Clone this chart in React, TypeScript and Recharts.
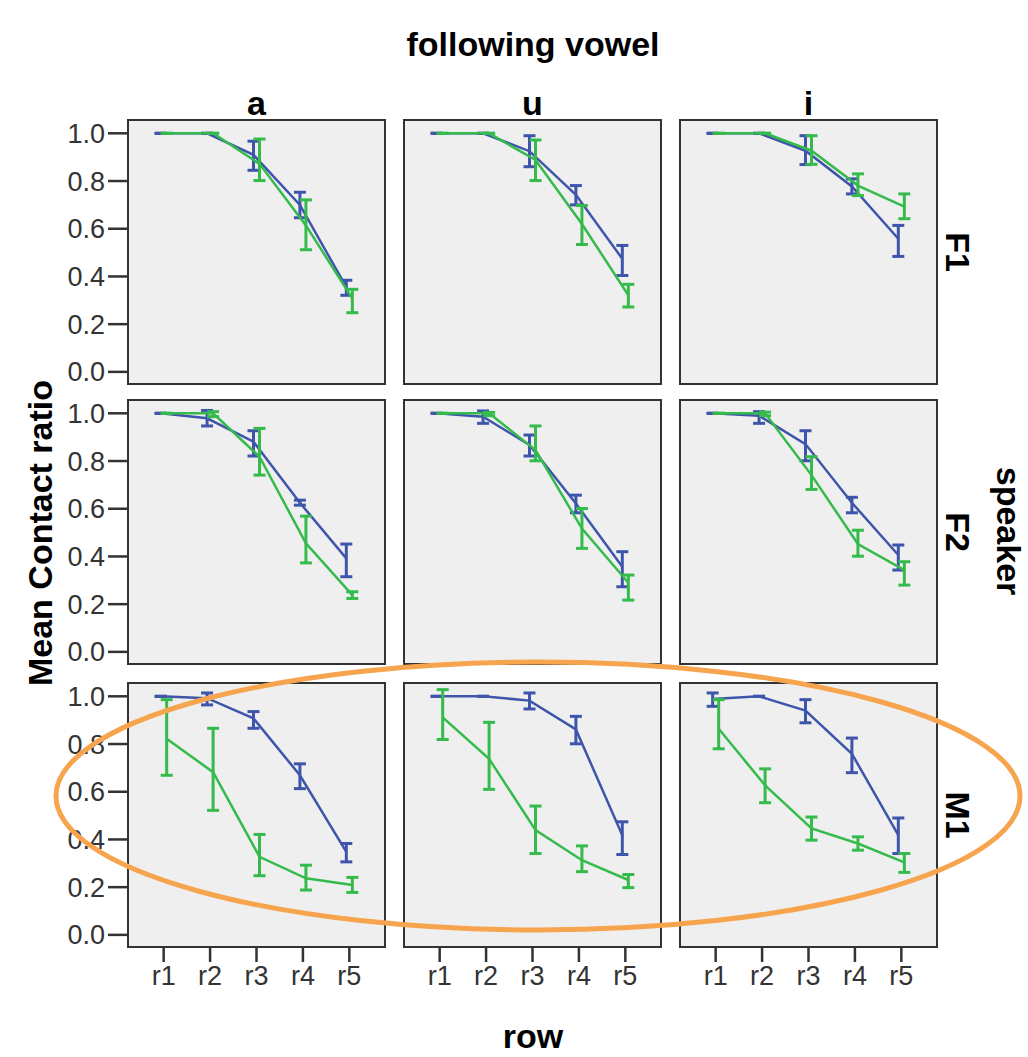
import React from "react";
import { LineChart, Line, XAxis, YAxis, ErrorBar } from "recharts";

/* categories */
const ROWS = ["r1", "r2", "r3", "r4", "r5"];
const VOWELS = ["a", "u", "i"];
const SPEAKERS = ["F1", "F2", "M1"];
const Y_TICKS = [0, 0.2, 0.4, 0.6, 0.8, 1.0];

/* means and CI [low, high] per panel, blue and green series */
const F1_a_blue = [1.0, 1.0, 0.91, 0.7, 0.355];
const F1_a_blue_ci = [[1, 1], [1, 1], [0.845, 0.967], [0.646, 0.753], [0.321, 0.384]];
const F1_a_green = [1.0, 1.0, 0.872, 0.614, 0.307];
const F1_a_green_ci = [[1, 1], [1, 1], [0.802, 0.976], [0.512, 0.721], [0.248, 0.346]];

const F1_u_blue = [1.0, 1.0, 0.925, 0.742, 0.474];
const F1_u_blue_ci = [[1, 1], [1, 1], [0.86, 0.99], [0.7, 0.781], [0.404, 0.53]];
const F1_u_green = [1.0, 1.0, 0.888, 0.62, 0.321];
const F1_u_green_ci = [[1, 1], [1, 1], [0.802, 0.972], [0.534, 0.697], [0.272, 0.367]];

const F1_i_blue = [1.0, 1.0, 0.927, 0.777, 0.558];
const F1_i_blue_ci = [[1, 1], [1, 1], [0.869, 0.99], [0.746, 0.809], [0.484, 0.614]];
const F1_i_green = [1.0, 1.0, 0.927, 0.781, 0.693];
const F1_i_green_ci = [[1, 1], [1, 1], [0.87, 0.99], [0.739, 0.83], [0.642, 0.746]];

const F2_a_blue = [1.0, 0.979, 0.881, 0.625, 0.392];
const F2_a_blue_ci = [[1, 1], [0.947, 1.012], [0.821, 0.927], [0.615, 0.636], [0.315, 0.452]];
const F2_a_green = [1.0, 1.0, 0.818, 0.455, 0.238];
const F2_a_green_ci = [[1, 1], [0.986, 1.007], [0.741, 0.937], [0.373, 0.569], [0.224, 0.252]];

const F2_u_blue = [1.0, 0.986, 0.867, 0.622, 0.357];
const F2_u_blue_ci = [[1, 1], [0.958, 1.01], [0.821, 0.909], [0.583, 0.657], [0.273, 0.42]];
const F2_u_green = [1.0, 1.0, 0.846, 0.517, 0.29];
const F2_u_green_ci = [[1, 1], [0.99, 1.004], [0.801, 0.947], [0.434, 0.601], [0.217, 0.322]];

const F2_i_blue = [1.0, 0.99, 0.871, 0.625, 0.406];
const F2_i_blue_ci = [[1, 1], [0.958, 1.007], [0.801, 0.927], [0.583, 0.648], [0.343, 0.448]];
const F2_i_green = [1.0, 1.0, 0.741, 0.452, 0.343];
const F2_i_green_ci = [[1, 1], [0.99, 1.005], [0.681, 0.818], [0.401, 0.51], [0.28, 0.378]];

const M1_a_blue = [1.0, 0.992, 0.908, 0.669, 0.348];
const M1_a_blue_ci = [[1, 1], [0.964, 1.014], [0.866, 0.936], [0.613, 0.717], [0.306, 0.383]];
const M1_a_green = [0.822, 0.682, 0.327, 0.237, 0.209];
const M1_a_green_ci = [[0.669, 0.986], [0.522, 0.866], [0.248, 0.421], [0.188, 0.292], [0.178, 0.241]];

const M1_u_blue = [1.0, 1.0, 0.982, 0.861, 0.418];
const M1_u_blue_ci = [[1, 1], [1, 1], [0.947, 1.014], [0.801, 0.916], [0.337, 0.474]];
const M1_u_green = [0.912, 0.738, 0.439, 0.313, 0.23];
const M1_u_green_ci = [[0.819, 1.028], [0.61, 0.891], [0.341, 0.54], [0.265, 0.373], [0.198, 0.253]];

const M1_i_blue = [0.989, 1.0, 0.94, 0.759, 0.418];
const M1_i_blue_ci = [[0.958, 1.014], [1, 1], [0.889, 0.986], [0.68, 0.825], [0.341, 0.49]];
const M1_i_green = [0.864, 0.627, 0.446, 0.383, 0.304];
const M1_i_green_ci = [[0.78, 0.986], [0.554, 0.696], [0.397, 0.494], [0.355, 0.411], [0.262, 0.341]];

/* panel lookup: [speaker][vowel] */
const PANELS: Record<string, Record<string, any>> = {
  F1: {
    a: { blue: F1_a_blue, blueCi: F1_a_blue_ci, green: F1_a_green, greenCi: F1_a_green_ci },
    u: { blue: F1_u_blue, blueCi: F1_u_blue_ci, green: F1_u_green, greenCi: F1_u_green_ci },
    i: { blue: F1_i_blue, blueCi: F1_i_blue_ci, green: F1_i_green, greenCi: F1_i_green_ci },
  },
  F2: {
    a: { blue: F2_a_blue, blueCi: F2_a_blue_ci, green: F2_a_green, greenCi: F2_a_green_ci },
    u: { blue: F2_u_blue, blueCi: F2_u_blue_ci, green: F2_u_green, greenCi: F2_u_green_ci },
    i: { blue: F2_i_blue, blueCi: F2_i_blue_ci, green: F2_i_green, greenCi: F2_i_green_ci },
  },
  M1: {
    a: { blue: M1_a_blue, blueCi: M1_a_blue_ci, green: M1_a_green, greenCi: M1_a_green_ci },
    u: { blue: M1_u_blue, blueCi: M1_u_blue_ci, green: M1_u_green, greenCi: M1_u_green_ci },
    i: { blue: M1_i_blue, blueCi: M1_i_blue_ci, green: M1_i_green, greenCi: M1_i_green_ci },
  },
};

const BLUE = "#3e55ab";
const GREEN = "#34bb4c";
const FONT = "'Liberation Sans', Arial, sans-serif";

/* layout */
const COL_LEFT = [127, 403, 679];
const ROW_TOP = [119, 399, 682];
const PANEL_W = 259;
const PANEL_H = 266;
const Y_AXIS_W = 110;
const X_AXIS_H = 60;
const PAD_BOTTOM = 14; // room for the 0.0 label when x axis is hidden
const DODGE = 0.065;

/* build series rows: x offset for dodge, error deltas for ErrorBar */
function toSeries(means: number[], ci: number[][], offset: number) {
  return means.map((m, i) => ({
    x: i + 1 + offset,
    y: m,
    err: [m - ci[i][0], ci[i][1] - m],
  }));
}

function Panel({ speaker, vowel, row, col }: { speaker: string; vowel: string; row: number; col: number }) {
  const p = PANELS[speaker][vowel];
  const blue = toSeries(p.blue, p.blueCi, -DODGE);
  const green = toSeries(p.green, p.greenCi, DODGE);
  const showY = col === 0;
  const showX = row === 2;
  const left = COL_LEFT[col] - (showY ? Y_AXIS_W : 0);
  const width = PANEL_W + (showY ? Y_AXIS_W : 0);
  const bottom = showX ? 0 : PAD_BOTTOM;
  const height = PANEL_H + (showX ? X_AXIS_H : PAD_BOTTOM);

  return (
    <>
      {/* panel background + frame */}
      <div
        style={{
          position: "absolute",
          left: COL_LEFT[col],
          top: ROW_TOP[row],
          width: PANEL_W,
          height: PANEL_H,
          boxSizing: "border-box",
          background: "#efefef",
          border: "2px solid #333",
        }}
      />
      <div style={{ position: "absolute", left, top: ROW_TOP[row] }}>
        <LineChart width={width} height={height} margin={{ top: 0, right: 0, bottom, left: 0 }}>
          <XAxis
            type="number"
            dataKey="x"
            domain={[0.21, 5.79]}
            ticks={[1, 2, 3, 4, 5]}
            interval={0}
            tickFormatter={(v: number) => ROWS[v - 1]}
            hide={!showX}
            height={X_AXIS_H}
            axisLine={false}
            tickSize={14}
            tickMargin={4}
            tickLine={{ stroke: "#333", strokeWidth: 2.5 }}
            tick={{ fill: "#333", fontSize: 27, fontFamily: FONT }}
          />
          <YAxis
            type="number"
            domain={[-0.055, 1.06]}
            ticks={Y_TICKS}
            interval={0}
            tickFormatter={(v: number) => v.toFixed(1)}
            hide={!showY}
            width={Y_AXIS_W}
            axisLine={false}
            tickSize={19}
            tickMargin={3}
            tickLine={{ stroke: "#333", strokeWidth: 2.5 }}
            tick={{ fill: "#333", fontSize: 27, fontFamily: FONT }}
            allowDataOverflow
          />
          <Line
            data={blue}
            dataKey="y"
            stroke={BLUE}
            strokeWidth={2.5}
            dot={false}
            isAnimationActive={false}
          >
            <ErrorBar dataKey="err" direction="y" width={6} stroke={BLUE} strokeWidth={3} isAnimationActive={false} />
          </Line>
          <Line
            data={green}
            dataKey="y"
            stroke={GREEN}
            strokeWidth={2.5}
            dot={false}
            isAnimationActive={false}
          >
            <ErrorBar dataKey="err" direction="y" width={6} stroke={GREEN} strokeWidth={3} isAnimationActive={false} />
          </Line>
        </LineChart>
      </div>
    </>
  );
}

export default function App() {
  const bold = { fontFamily: FONT, fontWeight: 700, fontSize: 34, fill: "#000" } as const;
  return (
    <div style={{ position: "absolute", left: 0, top: 0, width: 1028, height: 1057, background: "#fff", overflow: "hidden" }}>
      {SPEAKERS.map((s, r) =>
        VOWELS.map((v, c) => <Panel key={s + v} speaker={s} vowel={v} row={r} col={c} />)
      )}

      {/* titles, strip labels and the orange annotation */}
      <svg width={1028} height={1057} style={{ position: "absolute", left: 0, top: 0, pointerEvents: "none" }}>
        <text x={533} y={44} textAnchor="middle" dominantBaseline="central" {...bold}>following vowel</text>
        {VOWELS.map((v, c) => (
          <text key={v} x={COL_LEFT[c] + PANEL_W / 2} y={103} textAnchor="middle" dominantBaseline="central" {...bold}>{v}</text>
        ))}
        {SPEAKERS.map((s, r) => (
          <text
            key={s}
            transform={`translate(958, ${ROW_TOP[r] + PANEL_H / 2}) rotate(90)`}
            textAnchor="middle"
            dominantBaseline="central"
            {...bold}
          >
            {s}
          </text>
        ))}
        <text transform="translate(1009, 531) rotate(90)" textAnchor="middle" dominantBaseline="central" {...bold}>speaker</text>
        <text transform="translate(40, 533) rotate(-90)" textAnchor="middle" dominantBaseline="central" {...bold}>Mean Contact ratio</text>
        <text x={533} y={1036} textAnchor="middle" dominantBaseline="central" {...bold}>row</text>
        <ellipse cx={538} cy={796} rx={482} ry={134} fill="none" stroke="#f7a44e" strokeWidth={5} />
      </svg>
    </div>
  );
}
